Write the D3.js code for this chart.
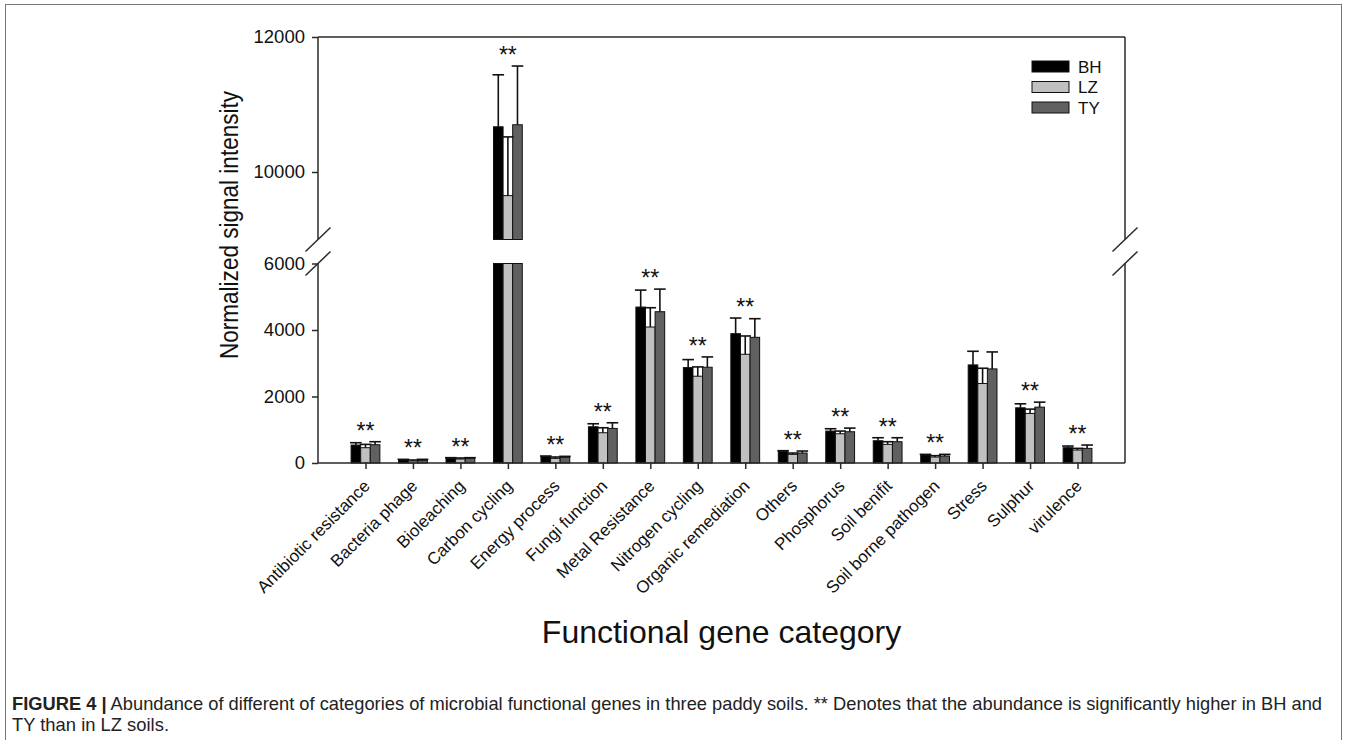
<!DOCTYPE html>
<html>
<head>
<meta charset="utf-8">
<script src="https://cdn.jsdelivr.net/npm/d3@7/dist/d3.min.js"></script>
<style>
  html, body { margin: 0; padding: 0; background: #fff; }
  svg { display: block; font-family: "Liberation Sans", Arial, sans-serif; }
</style>
</head>
<body>
<svg id="chart" width="1347" height="740"></svg>
<script>
// ---------------- DATA ----------------
const categories = ["Antibiotic resistance", "Bacteria phage", "Bioleaching", "Carbon cycling",
  "Energy process", "Fungi function", "Metal Resistance", "Nitrogen cycling", "Organic remediation",
  "Others", "Phosphorus", "Soil benifit", "Soil borne pathogen", "Stress", "Sulphur", "virulence"];
const seriesNames = ["BH", "LZ", "TY"];
const bhValues = [540, 90, 140, 10670, 190, 1090, 4690, 2870, 3890, 350, 960, 670, 240, 2950, 1660, 460];
const lzValues = [460, 60, 120, 9650, 140, 910, 4090, 2610, 3270, 260, 880, 560, 180, 2390, 1490, 390];
const tyValues = [550, 80, 140, 10700, 170, 1040, 4550, 2880, 3780, 300, 940, 640, 210, 2830, 1680, 440];
const bhErrors = [70, 20, 20, 770, 20, 90, 510, 240, 470, 20, 70, 90, 20, 410, 120, 50];
const lzErrors = [100, 30, 30, 870, 40, 150, 580, 280, 550, 40, 80, 80, 40, 460, 130, 50];
const tyErrors = [90, 30, 20, 870, 30, 170, 680, 310, 560, 60, 110, 120, 50, 510, 150, 100];
const significant = [true, true, true, true, true, true, true, true, true, true, true, true, true, false, true, true];
const lowerTicks = [0, 2000, 4000, 6000];
const upperTicks = [10000, 12000];
const lowerDomain = [0, 6000];
const upperDomain = [9000, 12000];
const yTitle = "Normalized signal intensity";
const xTitle = "Functional gene category";
const captionBold = "FIGURE 4 |";
const captionLine1 = " Abundance of different of categories of microbial functional genes in three paddy soils. ** Denotes that the abundance is significantly higher in BH and";
const captionLine2 = "TY than in LZ soils.";

(function () {
// ---------------- LAYOUT ----------------
const colors = { BH: "#000000", LZ: "#c0c0c0", TY: "#606060" };
const pLeft = 318, pRight = 1125, pTop = 37, pBottom = 463;
const lowerTop = 263.5, upperBottom = 239.5;
const axisColor = "#2a2a2a";

const svg = d3.select("#chart");

// outer frame
svg.append("rect").attr("x", 5.5).attr("y", 4.5).attr("width", 1336).attr("height", 745)
  .attr("fill", "none").attr("stroke", "#777").attr("stroke-width", 1);

const x = d3.scalePoint().domain(categories).range([pLeft, pRight]).padding(1);
const inner = d3.scaleBand().domain(seriesNames).range([-14.4, 14.4]).padding(0);
const yL = d3.scaleLinear().domain(lowerDomain).range([pBottom, lowerTop]);
const yU = d3.scaleLinear().domain(upperDomain).range([upperBottom, pTop]);
const yPos = v => v > lowerDomain[1] ? yU(v) : yL(v);

const series = [
  { name: "BH", values: bhValues, errors: bhErrors },
  { name: "LZ", values: lzValues, errors: lzErrors },
  { name: "TY", values: tyValues, errors: tyErrors }
];

const bars = [];
series.forEach(s => s.values.forEach((v, i) => bars.push({ cat: categories[i], s: s.name, v, e: s.errors[i] })));

const g = svg.append("g");
const bw = inner.bandwidth();

// lower segment bars
g.selectAll("rect.low").data(bars).join("rect").attr("class", "low")
  .attr("x", d => x(d.cat) + inner(d.s))
  .attr("width", bw)
  .attr("y", d => yL(Math.min(d.v, lowerDomain[1])))
  .attr("height", d => yL(0) - yL(Math.min(d.v, lowerDomain[1])))
  .attr("fill", d => colors[d.s]).attr("stroke", "#111").attr("stroke-width", 1);

// upper segment bars
g.selectAll("rect.up").data(bars.filter(d => d.v > upperDomain[0])).join("rect").attr("class", "up")
  .attr("x", d => x(d.cat) + inner(d.s))
  .attr("width", bw)
  .attr("y", d => yU(d.v))
  .attr("height", d => yU(upperDomain[0]) - yU(d.v))
  .attr("fill", d => colors[d.s]).attr("stroke", "#111").attr("stroke-width", 1);

// error bars
const eb = g.selectAll("g.err").data(bars).join("g").attr("class", "err")
  .attr("stroke", "#111").attr("stroke-width", 1.6);
eb.append("line")
  .attr("x1", d => x(d.cat) + inner(d.s) + bw / 2).attr("x2", d => x(d.cat) + inner(d.s) + bw / 2)
  .attr("y1", d => yPos(d.v)).attr("y2", d => yPos(d.v + d.e));
eb.append("line")
  .attr("x1", d => x(d.cat) + inner(d.s) - 1).attr("x2", d => x(d.cat) + inner(d.s) + bw + 1)
  .attr("y1", d => yPos(d.v + d.e)).attr("y2", d => yPos(d.v + d.e));

// significance stars
const starData = categories.map((c, i) => ({
  cat: c, sig: significant[i],
  topVal: Math.max(...series.map(s => s.values[i] + s.errors[i]))
})).filter(d => d.sig);
g.selectAll("text.star").data(starData).join("text").attr("class", "star")
  .attr("x", d => x(d.cat)).attr("y", d => yPos(d.topVal) - 3)
  .attr("text-anchor", "middle").attr("font-size", 23).attr("fill", "#111")
  .text("**");

// axes frame lines
const fr = svg.append("g").attr("stroke", axisColor).attr("stroke-width", 1.5).attr("fill", "none");
fr.append("line").attr("x1", pLeft).attr("x2", pRight).attr("y1", pTop).attr("y2", pTop);
fr.append("line").attr("x1", pLeft).attr("x2", pRight).attr("y1", pBottom).attr("y2", pBottom);
[pLeft, pRight].forEach(ax => {
  fr.append("line").attr("x1", ax).attr("x2", ax).attr("y1", pTop).attr("y2", upperBottom);
  fr.append("line").attr("x1", ax).attr("x2", ax).attr("y1", lowerTop).attr("y2", pBottom);
  [upperBottom, lowerTop].forEach(cy => {
    fr.append("line").attr("x1", ax - 12.5).attr("x2", ax + 12.5).attr("y1", cy + 12).attr("y2", cy - 12);
  });
});

// y axes ticks
const styleAxis = sel => {
  sel.select(".domain").remove();
  sel.selectAll(".tick line").attr("stroke", axisColor).attr("stroke-width", 1.5);
  sel.selectAll(".tick text").attr("font-size", 18.5).attr("fill", "#111")
    .style("font-family", "'Liberation Sans', Arial, sans-serif");
};
svg.append("g").attr("transform", `translate(${pLeft},0)`)
  .call(d3.axisLeft(yL).tickValues(lowerTicks).tickSize(6).tickPadding(7).tickFormat(d3.format("d")))
  .call(styleAxis);
svg.append("g").attr("transform", `translate(${pLeft},0)`)
  .call(d3.axisLeft(yU).tickValues(upperTicks).tickSize(6).tickPadding(7).tickFormat(d3.format("d")))
  .call(styleAxis);

// x axis
const xa = svg.append("g").attr("transform", `translate(0,${pBottom})`)
  .call(d3.axisBottom(x).tickSize(6));
xa.select(".domain").remove();
xa.selectAll(".tick line").attr("stroke", axisColor).attr("stroke-width", 1.5);
xa.selectAll(".tick text")
  .attr("font-size", 17).attr("fill", "#111")
  .style("font-family", "'Liberation Sans', Arial, sans-serif")
  .attr("text-anchor", "end")
  .attr("dy", 0).attr("y", 0)
  .attr("transform", "translate(5,24) rotate(-45)");

// titles
svg.append("text").attr("transform", `translate(238,225) rotate(-90)`)
  .attr("text-anchor", "middle").attr("font-size", 26).attr("fill", "#111")
  .attr("textLength", 268).attr("lengthAdjust", "spacingAndGlyphs").text(yTitle);
svg.append("text").attr("x", (pLeft + pRight) / 2).attr("y", 643)
  .attr("text-anchor", "middle").attr("font-size", 32).attr("fill", "#111").text(xTitle);

// legend
const lg = svg.append("g").attr("transform", "translate(1032,61)");
seriesNames.forEach((n, i) => {
  lg.append("rect").attr("x", 0).attr("y", i * 20.5).attr("width", 37).attr("height", 11)
    .attr("fill", colors[n]).attr("stroke", "#111").attr("stroke-width", 1);
  lg.append("text").attr("x", 46).attr("y", i * 20.5 + 11.5).attr("font-size", 17).attr("fill", "#111").text(n);
});

// caption
const cap = svg.append("text").attr("x", 12).attr("y", 710).attr("font-size", 18.5).attr("fill", "#222")
  .attr("textLength", 1310).attr("lengthAdjust", "spacingAndGlyphs");
cap.append("tspan").attr("font-weight", "bold").text(captionBold);
cap.append("tspan").text(captionLine1);
svg.append("text").attr("x", 12).attr("y", 731).attr("font-size", 18.5).attr("fill", "#222")
  .attr("textLength", 157).attr("lengthAdjust", "spacingAndGlyphs").text(captionLine2);
})();
</script>
</body>
</html>
